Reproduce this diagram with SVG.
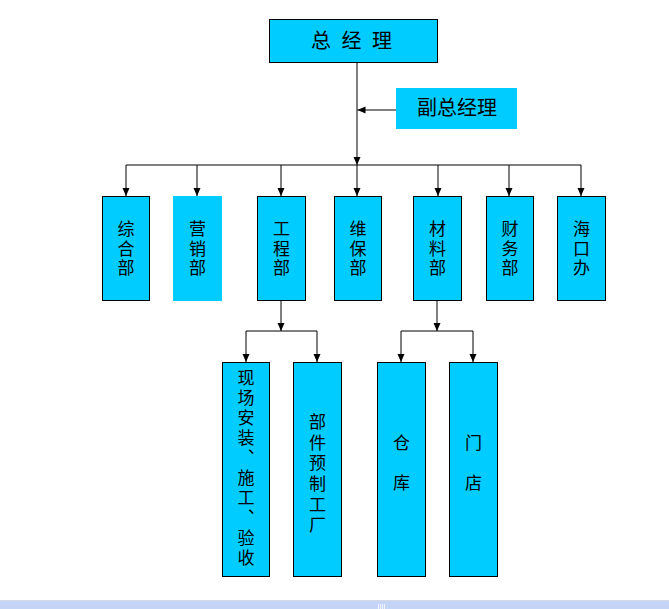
<svg xmlns="http://www.w3.org/2000/svg" width="669" height="609" viewBox="0 0 669 609">
<style>
.box{fill:#00CCFF;stroke:#000;stroke-width:1}
.nobox{fill:#00CCFF}
.t{font-family:"Noto Sans CJK SC","Noto Sans CJK JP",sans-serif;font-size:17px;fill:#000;text-anchor:middle}
.big{font-size:20px}
.v{writing-mode:vertical-rl;letter-spacing:2.5px}
.ln{stroke:#000;stroke-width:1;fill:none}
</style>
<defs>
<marker id="ah" markerUnits="userSpaceOnUse" markerWidth="9" markerHeight="8" refX="8" refY="3.5" orient="auto">
<path d="M0,0 L8,3.5 L0,7 z" fill="#000"/>
</marker>
</defs>
<rect width="669" height="609" fill="#fff"/>
<g id="connectors">
<line class="ln" x1="357" y1="62" x2="357" y2="165" marker-end="url(#ah)"/>
<line class="ln" x1="396" y1="110" x2="357.5" y2="110" marker-end="url(#ah)"/>
<line class="ln" x1="126" y1="165" x2="581" y2="165"/>
<line class="ln" x1="126" y1="165" x2="126" y2="196" marker-end="url(#ah)"/>
<line class="ln" x1="197" y1="165" x2="197" y2="196" marker-end="url(#ah)"/>
<line class="ln" x1="281" y1="165" x2="281" y2="196" marker-end="url(#ah)"/>
<line class="ln" x1="357" y1="165" x2="357" y2="196" marker-end="url(#ah)"/>
<line class="ln" x1="438" y1="165" x2="438" y2="196" marker-end="url(#ah)"/>
<line class="ln" x1="509" y1="165" x2="509" y2="196" marker-end="url(#ah)"/>
<line class="ln" x1="581" y1="165" x2="581" y2="196" marker-end="url(#ah)"/>
<line class="ln" x1="281" y1="300" x2="281" y2="331" marker-end="url(#ah)"/>
<line class="ln" x1="246" y1="331" x2="317" y2="331"/>
<line class="ln" x1="246" y1="331" x2="246" y2="362" marker-end="url(#ah)"/>
<line class="ln" x1="317" y1="331" x2="317" y2="362" marker-end="url(#ah)"/>
<line class="ln" x1="437" y1="300" x2="437" y2="331" marker-end="url(#ah)"/>
<line class="ln" x1="401" y1="331" x2="473" y2="331"/>
<line class="ln" x1="401" y1="331" x2="401" y2="362" marker-end="url(#ah)"/>
<line class="ln" x1="473" y1="331" x2="473" y2="362" marker-end="url(#ah)"/>
</g>
<g id="gm">
<rect class="box" x="269.5" y="19.5" width="168" height="43"/>
<text class="t big" x="353" y="47.5" letter-spacing="3" xml:space="preserve">总 经 理</text>
</g>
<g id="vgm">
<rect class="nobox" x="396" y="88" width="121" height="41"/>
<text class="t big" x="457" y="115">副总经理</text>
</g>
<g id="zonghe">
<rect class="box" x="102.5" y="196.5" width="47" height="104"/>
<text class="t v" x="126" y="249.5">综合部</text>
</g>
<g id="yingxiao">
<rect class="nobox" x="173" y="196" width="49" height="105"/>
<text class="t v" x="197.5" y="249.5">营销部</text>
</g>
<g id="gongcheng">
<rect class="box" x="257.5" y="196.5" width="48" height="104"/>
<text class="t v" x="281.5" y="249.5">工程部</text>
</g>
<g id="weibao">
<rect class="box" x="334.5" y="196.5" width="47" height="104"/>
<text class="t v" x="358" y="249.5">维保部</text>
</g>
<g id="cailiao">
<rect class="box" x="413.5" y="196.5" width="48" height="104"/>
<text class="t v" x="437.5" y="249.5">材料部</text>
</g>
<g id="caiwu">
<rect class="box" x="486.5" y="196.5" width="47" height="104"/>
<text class="t v" x="510" y="249.5">财务部</text>
</g>
<g id="haikou">
<rect class="box" x="557.5" y="196.5" width="48" height="104"/>
<text class="t v" x="581.5" y="249.5">海口办</text>
</g>
<g id="xianchang">
<rect class="box" x="222.5" y="362.5" width="47" height="214"/>
<text class="t v" x="246" y="469.5" style="letter-spacing:3px">现场安装、施工、验收</text>
</g>
<g id="bujian">
<rect class="box" x="293.5" y="362.5" width="48" height="214"/>
<text class="t v" x="317.5" y="475" style="letter-spacing:3.6px">部件预制工厂</text>
</g>
<g id="cangku">
<rect class="box" x="377.5" y="362.5" width="48" height="214"/>
<text class="t v" x="401.5" y="474" style="letter-spacing:23px">仓库</text>
</g>
<g id="mendian">
<rect class="box" x="449.5" y="362.5" width="48" height="214"/>
<text class="t v" x="473.5" y="474" style="letter-spacing:23px">门店</text>
</g>
<g id="bottombar">
<line x1="0" y1="600.5" x2="669" y2="600.5" stroke="#d4d8e0" stroke-width="1"/>
<rect x="0" y="601" width="669" height="8" fill="#C3D4F6"/>
<path d="M378.5,604v5M380.5,604v5M382.5,604v5M384.5,604v5" stroke="#eef3ff" stroke-width="1"/>
</g>
</svg>
